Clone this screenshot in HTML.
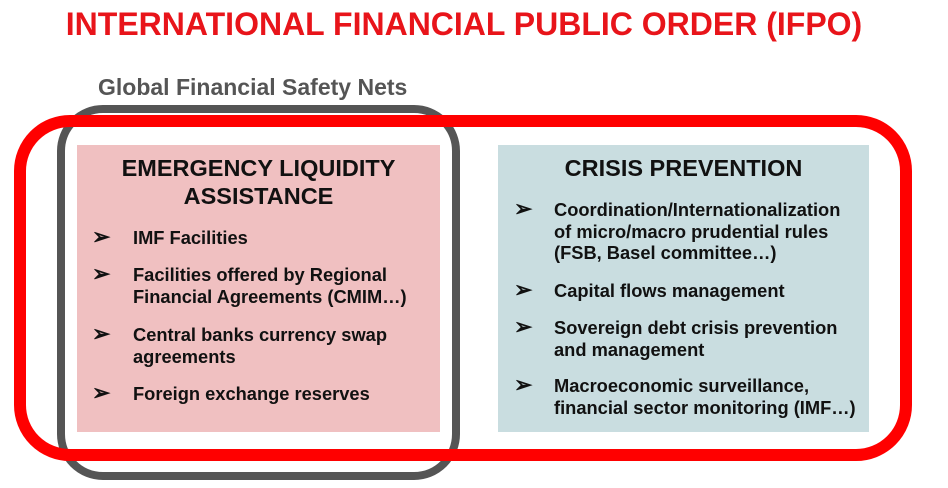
<!DOCTYPE html>
<html><head><meta charset="utf-8"><style>
body{margin:0;width:948px;height:488px;background:#fff;position:relative;overflow:hidden;font-family:"Liberation Sans",Arial,sans-serif;font-weight:bold}
.a{position:absolute;white-space:nowrap}
.t{font-size:18.3px;color:#111;line-height:21.5px}
.b{font-size:22px;color:#111;line-height:22px}
</style></head><body>
<div class="a" style="left:0;width:928px;text-align:center;top:6px;font-size:32px;color:#e8141a">INTERNATIONAL FINANCIAL PUBLIC ORDER (IFPO)</div>
<div class="a" style="left:98px;top:74px;font-size:23px;color:#555">Global Financial Safety Nets</div>
<div class="a" style="left:77px;top:145px;width:363px;height:287px;background:#f0c0c1"></div>
<div class="a" style="left:498px;top:145px;width:371px;height:287px;background:#c9dde0"></div>
<svg class="a" style="left:0;top:0" width="948" height="488">
<rect x="61" y="109" width="395" height="367" rx="42" fill="none" stroke="#555" stroke-width="8"/>
<rect x="20" y="121" width="886" height="334" rx="50" fill="none" stroke="#f00" stroke-width="12"/>
</svg>
<div class="a" style="left:77px;width:363px;text-align:center;top:154px;font-size:23.5px;line-height:28px;color:#111">EMERGENCY LIQUIDITY<br>ASSISTANCE</div>
<div class="a" style="left:498px;width:371px;text-align:center;top:154px;font-size:23.5px;line-height:28px;color:#111">CRISIS PREVENTION</div>
<div class="a b" style="left:92px;top:226px">➢</div><div class="a t" style="left:133px;top:227px">IMF Facilities</div>
<div class="a b" style="left:92px;top:263px">➢</div><div class="a t" style="left:133px;top:264px">Facilities offered by Regional<br>Financial Agreements (CMIM…)</div>
<div class="a b" style="left:92px;top:323px">➢</div><div class="a t" style="left:133px;top:324px">Central banks currency swap<br>agreements</div>
<div class="a b" style="left:92px;top:382px">➢</div><div class="a t" style="left:133px;top:383px">Foreign exchange reserves</div>
<div class="a b" style="left:514px;top:198px">➢</div><div class="a t" style="left:554px;top:199px">Coordination/Internationalization<br>of micro/macro prudential rules<br>(FSB, Basel committee…)</div>
<div class="a b" style="left:514px;top:279px">➢</div><div class="a t" style="left:554px;top:280px">Capital flows management</div>
<div class="a b" style="left:514px;top:316px">➢</div><div class="a t" style="left:554px;top:317px">Sovereign debt crisis prevention<br>and management</div>
<div class="a b" style="left:514px;top:374px">➢</div><div class="a t" style="left:554px;top:375px">Macroeconomic surveillance,<br>financial sector monitoring (IMF…)</div>
</body></html>
